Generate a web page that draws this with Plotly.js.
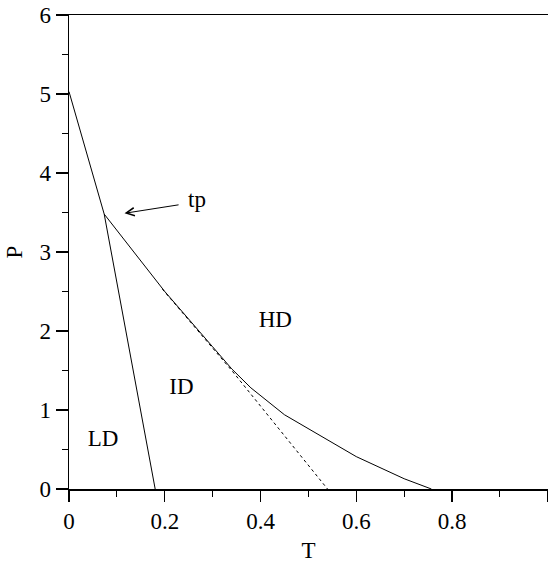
<!DOCTYPE html>
<html>
<head>
<meta charset="utf-8">
<script src="https://cdn.plot.ly/plotly-3.0.1.min.js"></script>
<style>html,body{margin:0;padding:0;background:#fff;overflow:hidden;}</style>
</head>
<body>
<div id="chart" style="width:548px;height:563px;"></div>
<script>
// LD boundary (left line, from P axis through triple point to T axis)
const ldT = [0.0, 0.0735, 0.18];
const ldP = [5.03, 3.48, 0.0];
// HD boundary (solid)
const hdT = [0.0735, 0.2, 0.3, 0.34, 0.38, 0.45, 0.6, 0.7, 0.757];
const hdP = [3.48, 2.5, 1.8, 1.52, 1.28, 0.94, 0.41, 0.13, 0.0];
// dashed continuation
const dashT = [0.195, 0.34, 0.54];
const dashP = [2.53, 1.5, 0.0];
// region labels
const labelText = ["HD", "ID", "LD"];
const labelT = [0.431, 0.235, 0.071];
const labelP = [2.12, 1.27, 0.62];
// triple point annotation
const tpText = "tp";
const tpHead = [0.116, 3.49];
const tpTail = [0.232, 3.6];
const tpLabel = [0.268, 3.66];

const xTicks = [0, 0.2, 0.4, 0.6, 0.8, 1];
const xTickText = ["0", "0.2", "0.4", "0.6", "0.8", "1"];
const yTicks = [0, 1, 2, 3, 4, 5, 6];

const font = {family: "'Liberation Serif'", size: 23, color: "#000"};
const lineStyle = {color: "#000", width: 1};

const traces = [
  {x: ldT, y: ldP, mode: "lines", line: lineStyle, hoverinfo: "skip"},
  {x: hdT, y: hdP, mode: "lines", line: lineStyle, hoverinfo: "skip"},
  {x: dashT, y: dashP, mode: "lines", line: {color: "#000", width: 1, dash: "3px,3px"}, hoverinfo: "skip"},
  {x: labelT, y: labelP, mode: "text", text: labelText, textfont: font, hoverinfo: "skip"}
];

const layout = {
  width: 548, height: 563,
  margin: {l: 69, r: 0, t: 15, b: 74},
  paper_bgcolor: "#fff", plot_bgcolor: "#fff",
  showlegend: false,
  font: font,
  xaxis: {
    range: [0, 1.0005], tickvals: xTicks, ticktext: xTickText,
    ticks: "outside", ticklen: 11, tickwidth: 1.2, tickcolor: "#000",
    minor: {dtick: 0.1, tick0: 0, ticks: "outside", ticklen: 6, tickwidth: 1.2, tickcolor: "#000"},
    showline: true, linecolor: "#000", linewidth: 1.5, mirror: true,
    showgrid: false, zeroline: false, tickfont: font,
    title: {text: "T", font: font, standoff: 14}
  },
  yaxis: {
    range: [0, 6], tickvals: yTicks,
    ticks: "outside", ticklen: 12, tickwidth: 1.2, tickcolor: "#000",
    minor: {dtick: 0.5, tick0: 0, ticks: "outside", ticklen: 6, tickwidth: 1.2, tickcolor: "#000"},
    showline: true, linecolor: "#000", linewidth: 1.5, mirror: false,
    showgrid: false, zeroline: false, tickfont: font,
    title: {text: "P", font: font, standoff: 10}
  },
  annotations: [
    {x: tpHead[0], y: tpHead[1], ax: tpTail[0], ay: tpTail[1], axref: "x", ayref: "y",
     xref: "x", yref: "y", text: "", showarrow: true, arrowhead: 5, arrowsize: 1.6, arrowwidth: 1, arrowcolor: "#000"},
    {x: tpLabel[0], y: tpLabel[1], xref: "x", yref: "y", text: tpText, showarrow: false, font: font}
  ]
};

Plotly.newPlot("chart", traces, layout, {displayModeBar: false, staticPlot: true});
</script>
</body>
</html>
